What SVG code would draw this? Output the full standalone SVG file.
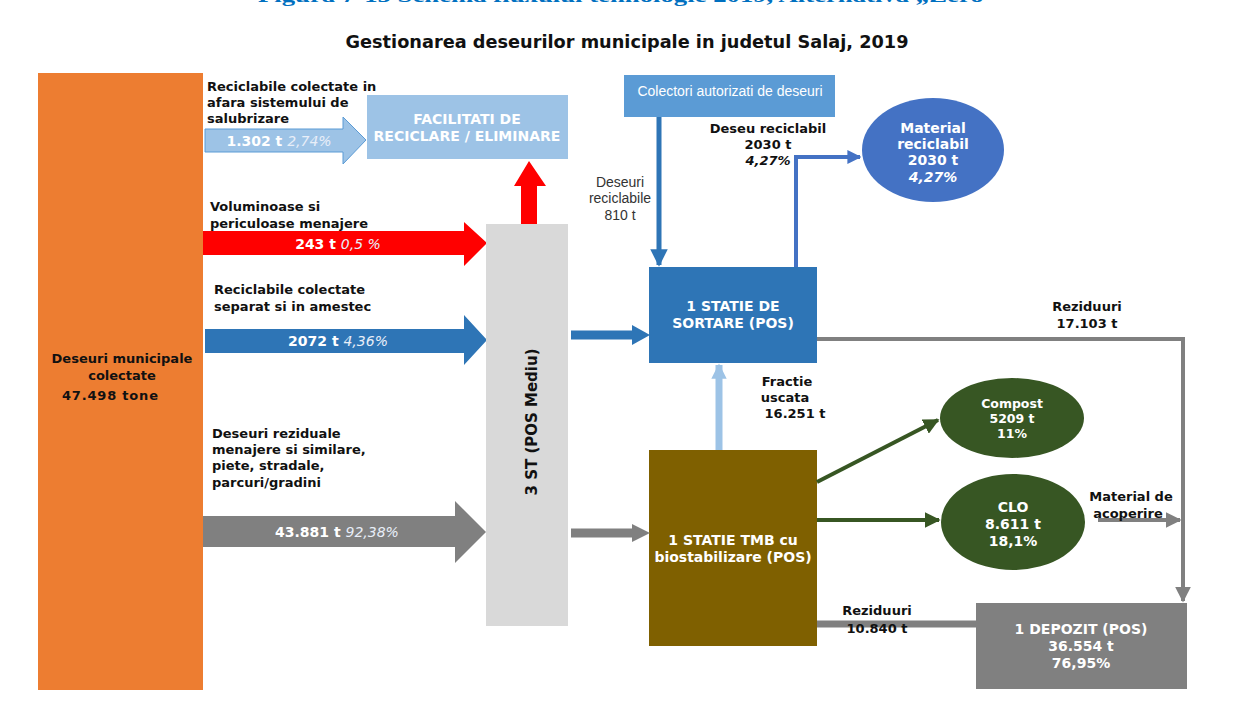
<svg xmlns="http://www.w3.org/2000/svg" width="1252" height="708" viewBox="0 0 1252 708">
  <style>
    text { font-family: "DejaVu Sans", Verdana, sans-serif; }
    .lbl { font-size: 13px; font-weight: bold; fill: #111; }
    .wl { font-size: 14px; font-weight: bold; fill: #fff; text-anchor: middle; }
    .pct { font-weight: normal; font-style: italic; fill: #e8eef8; }
    .mid { text-anchor: middle; }
    .sm { font-size: 12.5px; }
    .cal { font-family: "Liberation Sans", Arial, sans-serif; }
    .cap { font-family: "Liberation Serif", "Times New Roman", serif; font-size: 18px; font-weight: bold; fill: #0070C0; }
  </style>
  <defs>
    <marker id="hBlue" viewBox="0 0 10 10" refX="9" refY="5" markerWidth="3.5" markerHeight="3.5" orient="auto">
      <path d="M0,0 L10,5 L0,10 z" fill="#2E75B6"/>
    </marker>
    <marker id="hBlue2" viewBox="0 0 10 10" refX="9" refY="5" markerWidth="3.5" markerHeight="3.5" orient="auto">
      <path d="M0,0 L10,5 L0,10 z" fill="#4472C4"/>
    </marker>
    <marker id="hLight" viewBox="0 0 10 10" refX="9" refY="5" markerWidth="2.2" markerHeight="2.2" orient="auto">
      <path d="M0,0 L10,5 L0,10 z" fill="#9DC3E6"/>
    </marker>
    <marker id="hGreen" viewBox="0 0 10 10" refX="9" refY="5" markerWidth="4" markerHeight="4" orient="auto">
      <path d="M0,0 L10,5 L0,10 z" fill="#375623"/>
    </marker>
    <marker id="hGray" viewBox="0 0 10 10" refX="9" refY="5" markerWidth="4" markerHeight="4" orient="auto">
      <path d="M0,0 L10,5 L0,10 z" fill="#808080"/>
    </marker>
  </defs>

  <!-- figure caption, running off the top edge of the page -->
  <text class="cap" x="258" y="2" textLength="739" lengthAdjust="spacingAndGlyphs">Figura 7-15 Schema fluxului tehnologic 2019, Alternativa „Zero”</text>

  <!-- title -->
  <text x="627" y="48" class="mid" font-size="17" font-weight="bold" fill="#111" textLength="563" lengthAdjust="spacingAndGlyphs">Gestionarea deseurilor municipale in judetul Salaj, 2019</text>

  <!-- source node -->
  <g id="deseuri-municipale">
    <rect x="38" y="73" width="165" height="617" fill="#ED7D31"/>
    <text class="lbl mid" x="122" y="363">Deseuri municipale</text>
    <text class="lbl mid" x="122" y="380">colectate</text>
    <text class="lbl" x="62" y="400" textLength="96">47.498  tone</text>
  </g>

  <!-- flow arrows from source -->
  <g id="flux-reciclabile-afara">
    <text class="lbl" x="207" y="91">Reciclabile colectate  in</text>
    <text class="lbl" x="207" y="107">afara sistemului  de</text>
    <text class="lbl" x="207" y="123">salubrizare</text>
    <polygon points="205,129 343,129 343,117 366,140 343,164 343,152 205,152" fill="#9DC3E6" stroke="#5B9BD5" stroke-width="1"/>
    <text class="wl" x="279" y="146">1.302 t  <tspan class="pct" fill="#DEEBF7">2,74%</tspan></text>
  </g>

  <g id="flux-voluminoase">
    <text class="lbl" x="210" y="211">Voluminoase  si</text>
    <text class="lbl" x="210" y="228">periculoase  menajere</text>
    <polygon points="203,231 464,231 464,222 487,243 464,266 464,255 203,255" fill="#FF0000"/>
    <text class="wl" x="338" y="249">243 t  <tspan class="pct">0,5 %</tspan></text>
  </g>

  <g id="flux-reciclabile-separat">
    <text class="lbl" x="214" y="294">Reciclabile colectate</text>
    <text class="lbl" x="214" y="311">separat si in amestec</text>
    <polygon points="205,329 464,329 464,315 487,340 464,365 464,353 205,353" fill="#2E75B6"/>
    <text class="wl" x="338" y="346">2072 t  <tspan class="pct">4,36%</tspan></text>
  </g>

  <g id="flux-reziduale">
    <text class="lbl" x="212" y="438">Deseuri reziduale</text>
    <text class="lbl" x="212" y="454">menajere si similare,</text>
    <text class="lbl" x="212" y="470">piete, stradale,</text>
    <text class="lbl" x="212" y="487">parcuri/gradini</text>
    <polygon points="203,516 455,516 455,501 486,532 455,563 455,547 203,547" fill="#808080"/>
    <text class="wl" x="337" y="537">43.881 t  <tspan class="pct">92,38%</tspan></text>
  </g>

  <!-- facilities -->
  <g id="facilitati">
    <rect x="367" y="95" width="201" height="64" fill="#9DC3E6"/>
    <text class="wl" x="467" y="124">FACILITATI DE</text>
    <text class="wl" x="467" y="141">RECICLARE / ELIMINARE</text>
  </g>

  <!-- transfer stations -->
  <g id="statii-transfer">
    <rect x="486" y="224" width="82" height="402" fill="#D9D9D9"/>
    <text class="mid" transform="translate(537,422) rotate(-90)" font-size="15" font-weight="bold" fill="#111">3 ST (POS Mediu)</text>
  </g>

  <g id="colectori">
    <rect x="624" y="75" width="211" height="42" fill="#5B9BD5"/>
    <text class="mid cal" x="730" y="96" font-size="14" fill="#fff">Colectori autorizati de deseuri</text>
  </g>

  <g id="statie-sortare">
    <rect x="649" y="267" width="168" height="96" fill="#2E75B6"/>
    <text class="wl" x="733" y="311">1 STATIE DE</text>
    <text class="wl" x="733" y="328">SORTARE (POS)</text>
  </g>

  <g id="material-reciclabil">
    <ellipse cx="933" cy="150" rx="71" ry="52" fill="#4472C4"/>
    <text class="wl" x="933" y="133">Material</text>
    <text class="wl" x="933" y="149">reciclabil</text>
    <text class="wl" x="933" y="165">2030 t</text>
    <text class="wl" x="933" y="182" font-style="italic">4,27%</text>
  </g>

  <g id="statie-tmb">
    <rect x="649" y="450" width="168" height="196" fill="#7F6000"/>
    <text class="wl" x="733" y="545">1 STATIE TMB cu</text>
    <text class="wl" x="733" y="562">biostabilizare (POS)</text>
  </g>

  <g id="compost">
    <ellipse cx="1012" cy="418" rx="72" ry="40" fill="#375623"/>
    <text class="wl sm" x="1012" y="408">Compost</text>
    <text class="wl sm" x="1012" y="423">5209 t</text>
    <text class="wl sm" x="1012" y="438">11%</text>
  </g>

  <g id="clo">
    <ellipse cx="1013" cy="522" rx="72" ry="48" fill="#375623"/>
    <text class="wl" x="1013" y="512">CLO</text>
    <text class="wl" x="1013" y="529">8.611 t</text>
    <text class="wl" x="1013" y="546">18,1%</text>
  </g>

  <g id="depozit">
    <rect x="976" y="603" width="211" height="86" fill="#808080"/>
    <text class="wl" x="1081" y="634">1 DEPOZIT (POS)</text>
    <text class="wl" x="1081" y="651">36.554 t</text>
    <text class="wl" x="1081" y="668">76,95%</text>
  </g>

  <!-- connectors -->
  <g id="conexiuni" fill="none">
    <!-- transfer stations to recycling facilities -->
    <polygon points="521,224 521,186 514,186 529,161 546,186 537,186 537,224" fill="#FF0000"/>
    <!-- transfer stations to sorting -->
    <path d="M571,335 H632" stroke="#2E75B6" stroke-width="9"/>
    <polygon points="632,325 650,335 632,345" fill="#2E75B6"/>
    <!-- transfer stations to TMB -->
    <path d="M571,533 H632" stroke="#808080" stroke-width="9"/>
    <polygon points="632,524 650,533 632,542" fill="#808080"/>
    <!-- collectors to sorting -->
    <path d="M659,117 V265" stroke="#2E75B6" stroke-width="5" marker-end="url(#hBlue)"/>
    <!-- sorting to recyclable material -->
    <path d="M796,267 V157 H860" stroke="#4472C4" stroke-width="4" marker-end="url(#hBlue2)"/>
    <!-- TMB dry fraction to sorting -->
    <path d="M719,450 V365" stroke="#9DC3E6" stroke-width="7" marker-end="url(#hLight)"/>
    <!-- TMB to compost and CLO -->
    <path d="M817,482 L938,420" stroke="#375623" stroke-width="4" marker-end="url(#hGreen)"/>
    <path d="M817,520 H939" stroke="#375623" stroke-width="4" marker-end="url(#hGreen)"/>
    <!-- CLO to cover material -->
    <path d="M1098,520 H1180" stroke="#808080" stroke-width="4" marker-end="url(#hGray)"/>
    <!-- sorting residues to landfill -->
    <path d="M817,339 H1183 V601" stroke="#808080" stroke-width="4" marker-end="url(#hGray)"/>
    <!-- TMB residues to landfill -->
    <path d="M817,624 H990" stroke="#808080" stroke-width="7"/>
  </g>

  <!-- connector labels -->
  <g id="etichete">
    <text class="mid cal" x="620" y="187" font-size="14" fill="#333">Deseuri</text>
    <text class="mid cal" x="620" y="203" font-size="14" fill="#333">reciclabile</text>
    <text class="mid cal" x="620" y="220" font-size="14" fill="#333">810 t</text>
    <text class="lbl mid" x="768" y="133">Deseu reciclabil</text>
    <text class="lbl mid" x="768" y="149">2030 t</text>
    <text class="lbl mid" x="768" y="165" font-style="italic">4,27%</text>
    <text class="lbl mid" x="1087" y="311">Reziduuri</text>
    <text class="lbl mid" x="1087" y="328">17.103 t</text>
    <text class="lbl mid" x="787" y="386">Fractie</text>
    <text class="lbl mid" x="785" y="402">uscata</text>
    <text class="lbl mid" x="795" y="418">16.251 t</text>
    <text class="lbl mid" x="1131" y="501">Material de</text>
    <text class="lbl mid" x="1128" y="518">acoperire</text>
    <text class="lbl mid" x="877" y="615">Reziduuri</text>
    <text class="lbl mid" x="877" y="633">10.840 t</text>
  </g>
</svg>
